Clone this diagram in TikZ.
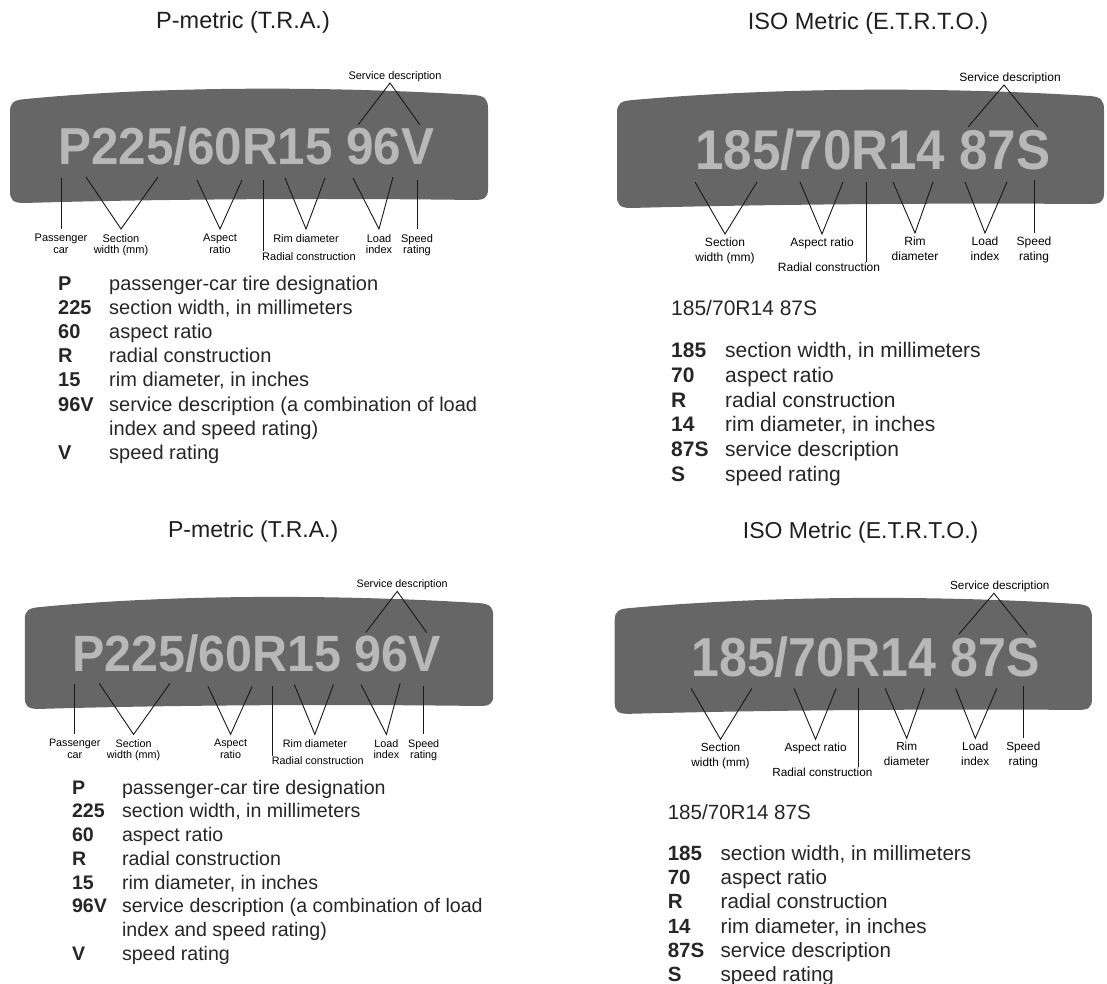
\documentclass[tikz,border=0pt]{standalone}
\usepackage{fontspec}
\setmainfont{Liberation Sans}
\usepackage{graphicx}
\usetikzlibrary{positioning}

\begin{document}
\begin{tikzpicture}[
    x=1pt, y=-1pt,
    band/.style   = {fill=black!60},
    plate/.style  = {text=black!28, inner sep=0pt, anchor=base west},
    head/.style   = {font=\fontsize{23.5}{28}\selectfont, text=black!88},
    tag/.style    = {font=\fontsize{11}{11.5}\selectfont, align=center, inner sep=1pt},
    bigtag/.style = {font=\fontsize{12}{14.5}\selectfont, align=center, inner sep=1pt},
    lead/.style   = {draw=black!90, line width=0.9pt},
    legend/.style = {text=black!85, inner sep=0pt, anchor=base west},
    node distance = 4pt
]
\useasboundingbox (0,0) rectangle (1107,984);

\foreach \rowy/\lx/\rx/\sc in {0/0/0/1, 510/15/10/0.98} {

    % P-metric panel
    \begin{scope}[shift={(\lx,\rowy)}, scale=\sc, transform shape]
        \fill[band] (10,112) .. controls (10,102) and (14,100) .. (26,99)
            .. controls (160,86) and (330,86) .. (474,95)
            .. controls (485,96) and (488,99) .. (488,109)
            -- (488,189) .. controls (488,198) and (484,200) .. (474,200)
            .. controls (330,198) and (160,199) .. (24,203)
            .. controls (13,203) and (10,200) .. (10,191) -- cycle;
        \node[head] (ptitle) at (243,22) {P-metric (T.R.A.)};
        \node[plate, font=\fontsize{52}{52}\selectfont\bfseries] (pcode) at (58,165)
            {\scalebox{0.95}[1]{P225/60R15 96V}};

        \coordinate (pservapex) at (390,83);
        \coordinate (pservA) at (358,125);
        \coordinate (pservB) at (420,125);
        \node[tag, above=0pt of pservapex, xshift=5pt] (pserv) {Service description};
        \draw[lead] (pservA) -- (pservapex) -- (pservB);

        \coordinate (pcartop) at (61,178);
        \coordinate (pcarend) at (61,229);
        \node[tag, below=of pcarend] (pcar) {Passenger\\car};
        \draw[lead] (pcartop) -- (pcarend);

        \coordinate (pwidthA) at (86,177);
        \coordinate (pwidthB) at (158,177);
        \coordinate (pwidthapex) at (121,229);
        \node[tag, below=of pwidthapex] (pwidth) {Section\\width (mm)};
        \draw[lead] (pwidthA) -- (pwidthapex) -- (pwidthB);

        \coordinate (paspA) at (197,180);
        \coordinate (paspB) at (242,180);
        \coordinate (paspapex) at (220,229);
        \node[tag, below=of paspapex] (pasp) {Aspect\\ratio};
        \draw[lead] (paspA) -- (paspapex) -- (paspB);

        \coordinate (pradtop) at (263,180);
        \node[tag, anchor=north west] (prad) at (261,251) {Radial construction};
        \draw[lead] (pradtop) -- (pradtop |- prad.north);

        \coordinate (primA) at (285,178);
        \coordinate (primB) at (325,178);
        \coordinate (primapex) at (306,229);
        \node[tag, below=of primapex] (prim) {Rim diameter};
        \draw[lead] (primA) -- (primapex) -- (primB);

        \coordinate (ploadA) at (353,178);
        \coordinate (ploadB) at (393,177);
        \coordinate (ploadapex) at (379,229);
        \node[tag, below=of ploadapex] (pload) {Load\\index};
        \draw[lead] (ploadA) -- (ploadapex) -- (ploadB);

        \coordinate (pspeedtop) at (417,180);
        \coordinate (pspeedend) at (417,229);
        \node[tag, below=of pspeedend] (pspeed) {Speed\\rating};
        \draw[lead] (pspeedtop) -- (pspeedend);

        \node[legend, font=\fontsize{20}{24.2}\selectfont] (plist) at (58,290) {%
            \begin{tabular}[t]{@{}p{51pt}@{}l@{}}
            \textbf{P}   & passenger-car tire designation\\
            \textbf{225} & section width, in millimeters\\
            \textbf{60}  & aspect ratio\\
            \textbf{R}   & radial construction\\
            \textbf{15}  & rim diameter, in inches\\
            \textbf{96V} & service description (a combination of load\\
                         & index and speed rating)\\
            \textbf{V}   & speed rating
            \end{tabular}};
    \end{scope}

    % ISO metric panel
    \begin{scope}[shift={(\rx,\rowy)}, scale=\sc, transform shape]
        \fill[band] (617,113) .. controls (617,103) and (621,101) .. (633,100)
            .. controls (780,87) and (950,87) .. (1090,96)
            .. controls (1101,97) and (1104,100) .. (1104,110)
            -- (1104,193) .. controls (1104,202) and (1100,204) .. (1090,204)
            .. controls (950,203) and (780,204) .. (631,208)
            .. controls (620,208) and (617,205) .. (617,196) -- cycle;
        \node[head] (ititle) at (868,23) {ISO Metric (E.T.R.T.O.)};
        \node[plate, font=\fontsize{56}{56}\selectfont\bfseries] (icode) at (695,170)
            {\scalebox{0.913}[1]{185/70R14 87S}};

        \coordinate (iservapex) at (1004,85);
        \coordinate (iservA) at (968,127);
        \coordinate (iservB) at (1038,127);
        \node[bigtag, above=0pt of iservapex, xshift=6pt] (iserv) {Service description};
        \draw[lead] (iservA) -- (iservapex) -- (iservB);

        \coordinate (iwidthA) at (695,182);
        \coordinate (iwidthB) at (757,182);
        \coordinate (iwidthapex) at (725,234);
        \node[bigtag, below=3pt of iwidthapex] (iwidth) {Section\\width (mm)};
        \draw[lead] (iwidthA) -- (iwidthapex) -- (iwidthB);

        \coordinate (iaspA) at (800,182);
        \coordinate (iaspB) at (843,182);
        \coordinate (iaspapex) at (822,234);
        \node[bigtag, below=3pt of iaspapex] (iasp) {Aspect ratio};
        \draw[lead] (iaspA) -- (iaspapex) -- (iaspB);

        \coordinate (iradtop) at (866,182);
        \node[bigtag, anchor=north] (irad) at (829,262) {Radial construction};
        \draw[lead, line width=0.6pt] (iradtop) -- (iradtop |- irad.north);

        \coordinate (irimA) at (893,182);
        \coordinate (irimB) at (933,182);
        \coordinate (irimapex) at (915,233);
        \node[bigtag, below=3pt of irimapex] (irim) {Rim\\diameter};
        \draw[lead] (irimA) -- (irimapex) -- (irimB);

        \coordinate (iloadA) at (965,182);
        \coordinate (iloadB) at (1007,182);
        \coordinate (iloadapex) at (985,233);
        \node[bigtag, below=3pt of iloadapex] (iload) {Load\\index};
        \draw[lead] (iloadA) -- (iloadapex) -- (iloadB);

        \coordinate (ispeedtop) at (1034,180);
        \coordinate (ispeedend) at (1034,233);
        \node[bigtag, below=3pt of ispeedend] (ispeed) {Speed\\rating};
        \draw[lead] (ispeedtop) -- (ispeedend);

        \node[legend, font=\fontsize{21}{25}\selectfont] (isize) at (671,315.5) {185/70R14 87S};
        \node[legend, font=\fontsize{21}{24.8}\selectfont] (ilist) at (671,357.5) {%
            \begin{tabular}[t]{@{}p{54pt}@{}l@{}}
            \textbf{185} & section width, in millimeters\\
            \textbf{70}  & aspect ratio\\
            \textbf{R}   & radial construction\\
            \textbf{14}  & rim diameter, in inches\\
            \textbf{87S} & service description\\
            \textbf{S}   & speed rating
            \end{tabular}};
    \end{scope}
}
\end{tikzpicture}
\end{document}
